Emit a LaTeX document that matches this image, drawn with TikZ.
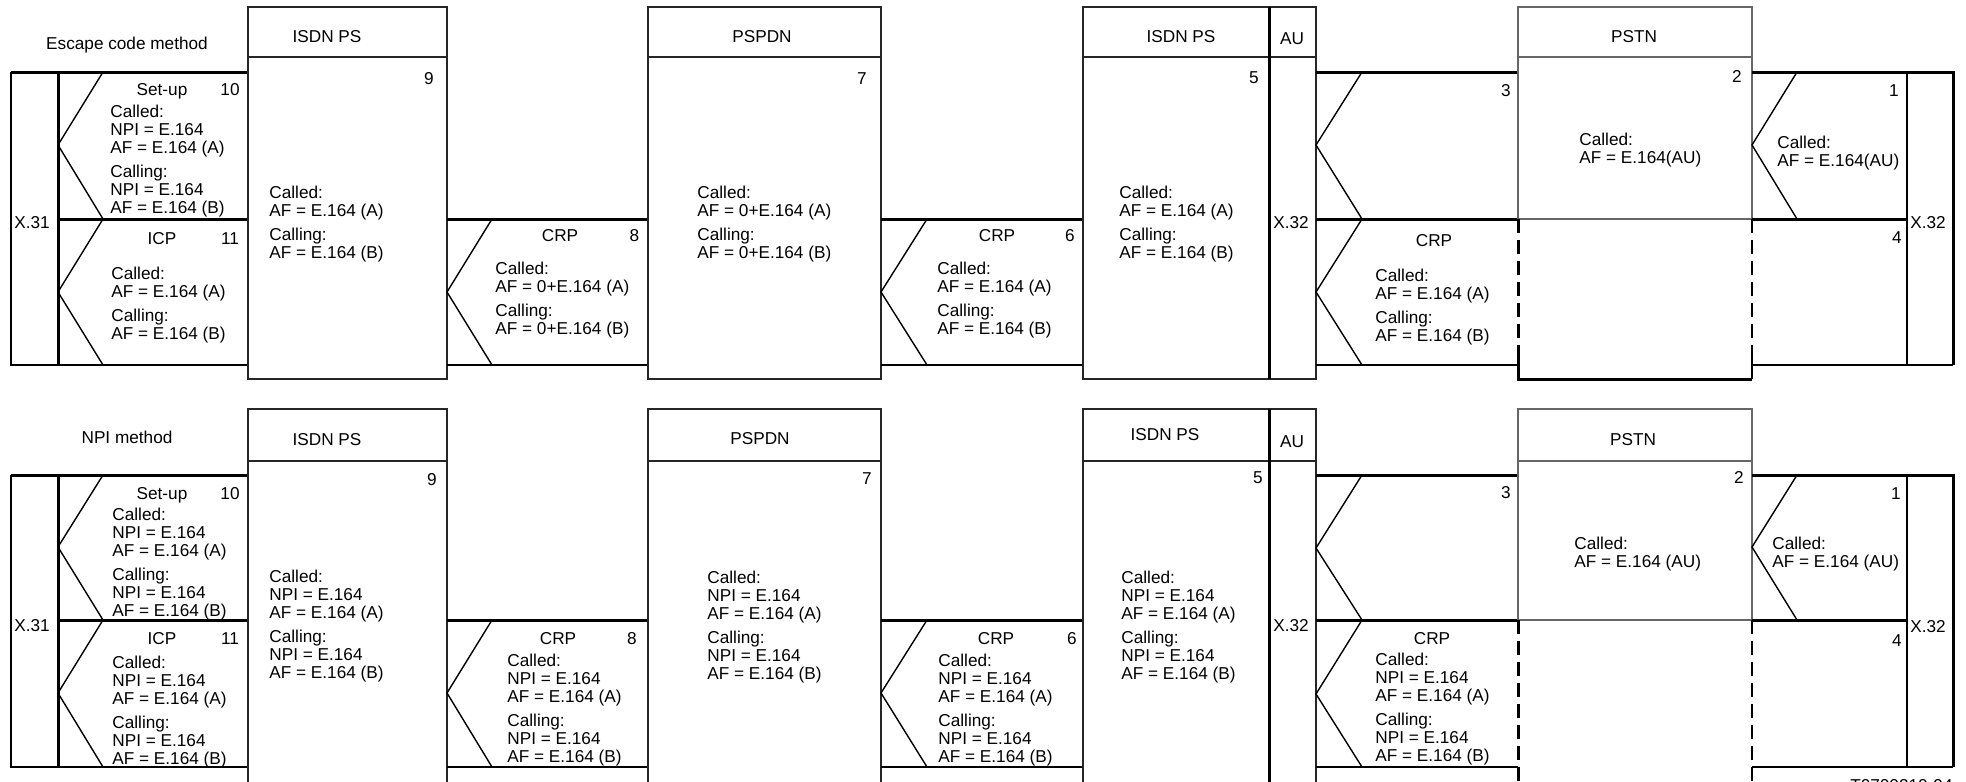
\documentclass[tikz,border=0pt]{standalone}
\usepackage{fontspec}
\setmainfont{Liberation Sans}
\newcommand\tstr{\rule{0pt}{7pt}}
\begin{document}
\begin{tikzpicture}[x=0.5pt,y=-0.5pt,
  thk/.style={line width=1.5pt},
  thn/.style={line width=0.7pt},
  boxl/.style={line width=0.8pt,draw=black!85},
  gboxl/.style={line width=0.8pt,draw=black!60},
  lbl/.style={font=\fontsize{8.6}{9}\selectfont,inner sep=0pt,anchor=base},
  blk/.style={font=\fontsize{8.6}{9}\selectfont,inner sep=0pt,anchor=north west,align=left},
  dthk/.style={line width=1.5pt,dash pattern=on 7pt off 3.5pt},
  dthn/.style={line width=0.7pt,dash pattern=on 7pt off 3.5pt}]
\useasboundingbox (0,0) rectangle (1966,782);

% ================= TOP DIAGRAM =================
% left block
\draw[thk] (11,72) -- (248,72);
\draw[thn] (11,72) -- (11,365) -- (248,365);
\draw[thk] (58,72) -- (58,365);
\draw[thk] (58,219) -- (248,219);
\draw[thn] (103,72) -- (58,145) -- (103,219) -- (58,292) -- (103,365);
% ISDN PS box
\draw[boxl] (248,7) rectangle (447,379);
\draw[boxl] (248,57) -- (447,57);
% CRP 8
\draw[thk] (447,219) -- (648,219);
\draw[thn] (447,365) -- (648,365);
\draw[thn] (492,219) -- (447,292) -- (492,365);
% PSPDN box
\draw[boxl] (648,7) rectangle (881,379);
\draw[boxl] (648,57) -- (881,57);
% CRP 6
\draw[thk] (881,219) -- (1083,219);
\draw[thn] (881,365) -- (1083,365);
\draw[thn] (927,219) -- (881,292) -- (927,365);
% ISDN PS / AU
\draw[boxl] (1083,7) rectangle (1316,379);
\draw[boxl] (1083,57) -- (1316,57);
\draw[thk] (1269,7) -- (1269,379);
% section 3 / CRP
\draw[thk] (1316,72) -- (1518,72);
\draw[thk] (1316,219) -- (1518,219);
\draw[thn] (1316,365) -- (1518,365);
\draw[thn] (1362,72) -- (1316,145) -- (1362,219) -- (1316,292) -- (1362,365);
% PSTN
\draw[gboxl] (1518,219) -- (1518,7) -- (1752,7) -- (1752,219) -- cycle;
\draw[gboxl] (1518,57) -- (1752,57);
\draw[dthk] (1518,219) -- (1518,365);
\draw[dthn] (1752,219) -- (1752,365);
\draw[thk] (1518,358) -- (1518,379) -- (1752,379);
\draw[thn] (1752,358) -- (1752,379);
% section 1 / 4
\draw[thk] (1752,72) -- (1953,72) -- (1953,365);
\draw[thn] (1953,365) -- (1752,365);
\draw[thn] (1907,72) -- (1907,365);
\draw[thk] (1752,219) -- (1907,219);
\draw[thn] (1797,72) -- (1752,145) -- (1797,219);

% labels top
\node[lbl] (tesc) at (127,49) {Escape code method};
\node[lbl] (tisdnA) at (327,42.5) {ISDN PS};
\node[lbl] (tpspdn) at (762,42.5) {PSPDN};
\node[lbl] (tisdnB) at (1181,42.5) {ISDN PS};
\node[lbl] (tau) at (1292,44.5) {AU};
\node[lbl] (tpstn) at (1634,42.5) {PSTN};
\node[lbl] (tn9) at (429,84.5) {9};
\node[lbl] (tsetup) at (162,95.5) {Set-up};
\node[lbl] (tn10) at (230,95.5) {10};
\node[lbl] (tx31) at (32,228.5) {X.31};
\node[lbl] (ticp) at (162,244.5) {ICP};
\node[lbl] (tn11) at (230,244.5) {11};
\node[lbl] (tcrp8) at (560,241.5) {CRP};
\node[lbl] (tn8) at (634.5,241.5) {8};
\node[lbl] (tn7) at (862,84.5) {7};
\node[lbl] (tcrp6) at (997,241.5) {CRP};
\node[lbl] (tn6) at (1070,241.5) {6};
\node[lbl] (tn5) at (1254,83.5) {5};
\node[lbl] (tx32a) at (1291,228.5) {X.32};
\node[lbl] (tn3) at (1506,96.5) {3};
\node[lbl] (tcrp) at (1434,246.5) {CRP};
\node[lbl] (tn2) at (1737,82.5) {2};
\node[lbl] (tn1) at (1894,96.5) {1};
\node[lbl] (tn4) at (1897,243.5) {4};
\node[lbl] (tx32b) at (1928,228.5) {X.32};

% text blocks top
\node[blk] (tb10) at (110,103.5) {\tstr Called:\\NPI = E.164\\AF = E.164 (A)\\[3pt]Calling:\\NPI = E.164\\AF = E.164 (B)};
\node[blk] (tb11) at (111,265.5) {\tstr Called:\\AF = E.164 (A)\\[3pt]Calling:\\AF = E.164 (B)};
\node[blk] (tb9) at (269,184.5) {\tstr Called:\\AF = E.164 (A)\\[3pt]Calling:\\AF = E.164 (B)};
\node[blk] (tb8) at (495,260.5) {\tstr Called:\\AF = 0+E.164 (A)\\[3pt]Calling:\\AF = 0+E.164 (B)};
\node[blk] (tb7) at (697,184.5) {\tstr Called:\\AF = 0+E.164 (A)\\[3pt]Calling:\\AF = 0+E.164 (B)};
\node[blk] (tb6) at (937,260.5) {\tstr Called:\\AF = E.164 (A)\\[3pt]Calling:\\AF = E.164 (B)};
\node[blk] (tb5) at (1119,184.5) {\tstr Called:\\AF = E.164 (A)\\[3pt]Calling:\\AF = E.164 (B)};
\node[blk] (tbc) at (1375,267.5) {\tstr Called:\\AF = E.164 (A)\\[3pt]Calling:\\AF = E.164 (B)};
\node[blk] (tb2) at (1579,131.5) {\tstr Called:\\AF = E.164(AU)};
\node[blk] (tb1) at (1777,134.5) {\tstr Called:\\AF = E.164(AU)};

% ================= BOTTOM DIAGRAM =================
\draw[thk] (11,475) -- (248,475);
\draw[thn] (11,475) -- (11,767) -- (248,767);
\draw[thk] (58,475) -- (58,767);
\draw[thk] (58,620) -- (248,620);
\draw[thn] (103,475) -- (58,547) -- (103,620) -- (58,693) -- (103,767);
\draw[boxl] (248,800) -- (248,409) -- (447,409) -- (447,800);
\draw[boxl] (248,461) -- (447,461);
\draw[thk] (447,620) -- (648,620);
\draw[thn] (447,767) -- (648,767);
\draw[thn] (492,620) -- (447,693) -- (492,767);
\draw[boxl] (648,800) -- (648,409) -- (881,409) -- (881,800);
\draw[boxl] (648,461) -- (881,461);
\draw[thk] (881,620) -- (1083,620);
\draw[thn] (881,767) -- (1083,767);
\draw[thn] (927,620) -- (881,693) -- (927,767);
\draw[boxl] (1083,800) -- (1083,409) -- (1316,409) -- (1316,800);
\draw[boxl] (1083,461) -- (1316,461);
\draw[thk] (1269,409) -- (1269,800);
\draw[thk] (1316,475) -- (1518,475);
\draw[thk] (1316,620) -- (1518,620);
\draw[thn] (1316,767) -- (1518,767);
\draw[thn] (1362,475) -- (1316,548) -- (1362,620) -- (1316,694) -- (1362,767);
\draw[gboxl] (1518,620) -- (1518,409) -- (1752,409) -- (1752,620) -- cycle;
\draw[gboxl] (1518,461) -- (1752,461);
\draw[dthk] (1518,620) -- (1518,800);
\draw[dthn] (1752,620) -- (1752,800);
\draw[thk] (1752,475) -- (1953,475) -- (1953,767);
\draw[thn] (1953,767) -- (1752,767);
\draw[thn] (1907,475) -- (1907,767);
\draw[thk] (1752,620) -- (1907,620);
\draw[thn] (1797,475) -- (1752,547) -- (1797,620);

% labels bottom
\node[lbl] (bnpi) at (127,443.5) {NPI method};
\node[lbl] (bisdnA) at (327,445.5) {ISDN PS};
\node[lbl] (bpspdn) at (760,444.5) {PSPDN};
\node[lbl] (bisdnB) at (1165,440.5) {ISDN PS};
\node[lbl] (bau) at (1292,447.5) {AU};
\node[lbl] (bpstn) at (1633,445.5) {PSTN};
\node[lbl] (bn9) at (432,485.5) {9};
\node[lbl] (bsetup) at (162,499.5) {Set-up};
\node[lbl] (bn10) at (230,499.5) {10};
\node[lbl] (bx31) at (32,631.5) {X.31};
\node[lbl] (bicp) at (162,644.5) {ICP};
\node[lbl] (bn11) at (230,644.5) {11};
\node[lbl] (bn7) at (867,484.5) {7};
\node[lbl] (bcrp8) at (558,644.5) {CRP};
\node[lbl] (bn8) at (632,644.5) {8};
\node[lbl] (bcrp6) at (996,644.5) {CRP};
\node[lbl] (bn6) at (1072,644.5) {6};
\node[lbl] (bn5) at (1258,483.5) {5};
\node[lbl] (bx32a) at (1291,631.5) {X.32};
\node[lbl] (bn3) at (1506,498.5) {3};
\node[lbl] (bcrp) at (1432,644.5) {CRP};
\node[lbl] (bn2) at (1739,483.5) {2};
\node[lbl] (bn1) at (1896,499.5) {1};
\node[lbl] (bn4) at (1897,646.5) {4};
\node[lbl] (bx32b) at (1928,632.5) {X.32};

% text blocks bottom
\node[blk] (bb10) at (112,506.5) {\tstr Called:\\NPI = E.164\\AF = E.164 (A)\\[3pt]Calling:\\NPI = E.164\\AF = E.164 (B)};
\node[blk] (bb11) at (112,654.5) {\tstr Called:\\NPI = E.164\\AF = E.164 (A)\\[3pt]Calling:\\NPI = E.164\\AF = E.164 (B)};
\node[blk] (bb9) at (269,568.5) {\tstr Called:\\NPI = E.164\\AF = E.164 (A)\\[3pt]Calling:\\NPI = E.164\\AF = E.164 (B)};
\node[blk] (bb8) at (507,652.5) {\tstr Called:\\NPI = E.164\\AF = E.164 (A)\\[3pt]Calling:\\NPI = E.164\\AF = E.164 (B)};
\node[blk] (bb7) at (707,569.5) {\tstr Called:\\NPI = E.164\\AF = E.164 (A)\\[3pt]Calling:\\NPI = E.164\\AF = E.164 (B)};
\node[blk] (bb6) at (938,652.5) {\tstr Called:\\NPI = E.164\\AF = E.164 (A)\\[3pt]Calling:\\NPI = E.164\\AF = E.164 (B)};
\node[blk] (bb5) at (1121,569.5) {\tstr Called:\\NPI = E.164\\AF = E.164 (A)\\[3pt]Calling:\\NPI = E.164\\AF = E.164 (B)};
\node[blk] (bbc) at (1375,651.5) {\tstr Called:\\NPI = E.164\\AF = E.164 (A)\\[3pt]Calling:\\NPI = E.164\\AF = E.164 (B)};
\node[blk] (bb2) at (1574,535.5) {\tstr Called:\\AF = E.164 (AU)};
\node[blk] (bb1) at (1772,535.5) {\tstr Called:\\AF = E.164 (AU)};

% figure code (cut off at the lower edge)
\node[font=\fontsize{8.6}{9}\selectfont,inner sep=0pt,anchor=north east] (fig) at (1953,779) {T0700210-94};
\end{tikzpicture}
\end{document}
